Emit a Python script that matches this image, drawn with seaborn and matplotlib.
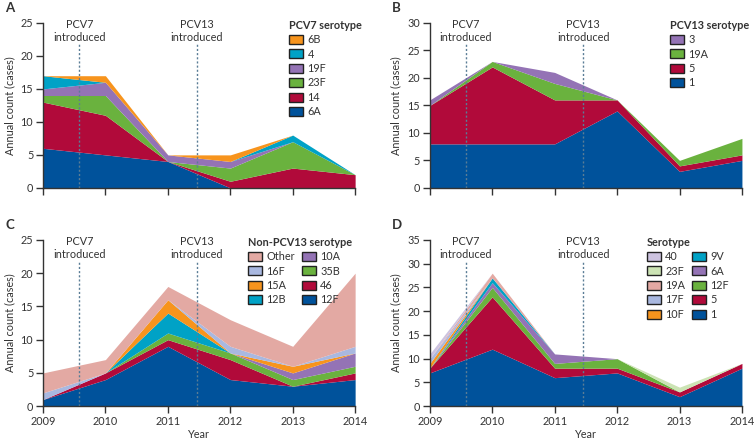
import matplotlib
matplotlib.use("Agg")
import matplotlib.pyplot as plt
import matplotlib.patches as mpatches
import seaborn as sns
import numpy as np

years = [2009, 2010, 2011, 2012, 2013, 2014]

# Panel A - PCV7 serotypes (stack order bottom -> top)
a_labels = ["6A", "14", "23F", "19F", "4", "6B"]
a_6A = [6, 5, 4, 0, 0, 0]
a_14 = [7, 6, 0, 1, 3, 2]
a_23F = [1, 3, 0, 2, 4, 0]
a_19F = [1, 2, 1, 1, 0, 0]
a_4 = [2, 0, 0, 0, 1, 0]
a_6B = [0, 1, 0, 1, 0, 0]

# Panel B - PCV13 serotypes
b_labels = ["1", "5", "19A", "3"]
b_1 = [8, 8, 8, 14, 3, 5]
b_5 = [7, 14, 8, 2, 1, 1]
b_19A = [0, 1, 3, 0, 1, 3]
b_3 = [1, 0, 2, 0, 0, 0]

# Panel C - non-PCV13 serotypes
c_labels = ["12F", "46", "35B", "10A", "12B", "15A", "16F", "Other"]
c_12F = [1, 4, 9, 4, 3, 4]
c_46 = [0, 1, 1, 3, 0, 1]
c_35B = [0, 0, 1, 1, 1, 1]
c_10A = [0, 0, 0, 0, 1, 2]
c_12B = [0, 0, 3, 0, 0, 0]
c_15A = [0, 0, 2, 0, 1, 0]
c_16F = [1, 0, 0, 1, 0, 1]
c_other = [3, 2, 2, 4, 3, 11]

# Panel D - all serotypes
d_labels = ["1", "5", "12F", "6A", "9V", "10F", "17F", "19A", "23F", "40"]
d_1 = [7, 12, 6, 7, 2, 8]
d_5 = [1, 11, 2, 1, 1, 1]
d_12F = [0, 2, 1, 2, 0, 0]
d_6A = [0, 1, 2, 0, 0, 0]
d_9V = [0, 1, 0, 0, 0, 0]
d_10F = [1, 0, 0, 0, 0, 0]
d_17F = [1, 0, 0, 0, 0, 0]
d_19A = [0, 1, 0, 0, 0, 0]
d_23F = [0, 0, 0, 0, 1, 0]
d_40 = [1, 0, 0, 0, 0, 0]

blue = "#00529b"
red = "#b10a3a"
green = "#6ab23e"
purple = "#9473b5"
cyan = "#00a2c6"
orange = "#f7941d"
pink = "#e3a9a3"
lightblue = "#a9b8e0"
lightgreen = "#cce3b4"
lavender = "#cdc3e0"

sns.set_theme(style="ticks")
plt.rcParams["font.family"] = ["Lato", "DejaVu Sans"]
plt.rcParams["axes.edgecolor"] = "#333333"
plt.rcParams["xtick.color"] = "#333333"
plt.rcParams["ytick.color"] = "#333333"
plt.rcParams["text.color"] = "#333333"
plt.rcParams["axes.labelcolor"] = "#333333"

fs = 7.8

fig = plt.figure(figsize=(7.54, 4.41), dpi=100)

panels = [
    ("A", [0.057, 0.574, 0.414, 0.374], [a_6A, a_14, a_23F, a_19F, a_4, a_6B], a_labels,
     [blue, red, green, purple, cyan, orange], 25, "PCV7 serotype", 1, False, 0.788),
    ("B", [0.570, 0.574, 0.414, 0.374], [b_1, b_5, b_19A, b_3], b_labels,
     [blue, red, green, purple], 30, "PCV13 serotype", 1, False, 0.77),
    ("C", [0.057, 0.079, 0.414, 0.377], [c_12F, c_46, c_35B, c_10A, c_12B, c_15A, c_16F, c_other], c_labels,
     [blue, red, green, purple, cyan, orange, lightblue, pink], 25, "Non-PCV13 serotype", 2, True, 0.657),
    ("D", [0.570, 0.079, 0.414, 0.377], [d_1, d_5, d_12F, d_6A, d_9V, d_10F, d_17F, d_19A, d_23F, d_40], d_labels,
     [blue, red, green, purple, cyan, orange, lightblue, pink, lightgreen, lavender], 35, "Serotype", 2, True, 0.695),
]

for letter, rect, series, labels, colors, ymax, title, ncol, bottom, legx in panels:
    ax = fig.add_axes(rect)
    ax.stackplot(years, *series, colors=colors, linewidth=0)
    ax.set_xlim(2009, 2014)
    ax.set_ylim(0, ymax)
    ax.set_yticks(np.arange(0, ymax + 1, 5))
    ax.set_xticks(years)
    ax.tick_params(axis="both", labelsize=fs, length=5, width=1, pad=2)
    sns.despine(ax=ax)
    ax.spines["left"].set_linewidth(1)
    ax.spines["bottom"].set_linewidth(1)
    ax.set_ylabel("Annual count (cases)", fontsize=fs, labelpad=4)
    if bottom:
        ax.set_xlabel("Year", fontsize=fs, labelpad=1.5)
    else:
        ax.set_xticklabels([])

    for xv, name in [(2009.58, "PCV7"), (2011.46, "PCV13")]:
        ax.plot([xv, xv], [0, ymax * 0.87], color="#5a7d96", lw=1,
                linestyle=(0, (1.5, 1.5)))
        ax.text(xv, 1.025, name + "\nintroduced", transform=ax.get_xaxis_transform(),
                ha="center", va="top", fontsize=fs, linespacing=1.2)

    handles = [mpatches.Patch(facecolor=c, edgecolor="#222222", linewidth=1)
               for c in colors][::-1]
    leg = ax.legend(handles, labels[::-1], title=title, ncol=ncol,
                    loc="upper left", bbox_to_anchor=(legx, 1.02),
                    frameon=False, fontsize=fs, title_fontsize=fs,
                    handlelength=1.3, handleheight=0.9, handletextpad=0.4,
                    labelspacing=0.32, columnspacing=0.6, borderaxespad=0,
                    borderpad=0)
    leg.get_title().set_fontweight("bold")
    leg._legend_box.align = "left"

    fig.text(rect[0] - 0.05, rect[1] + rect[3] + 0.02, letter, fontsize=9.5,
             fontweight="bold", ha="left", va="bottom")

fig.savefig("out.png", dpi=100)
